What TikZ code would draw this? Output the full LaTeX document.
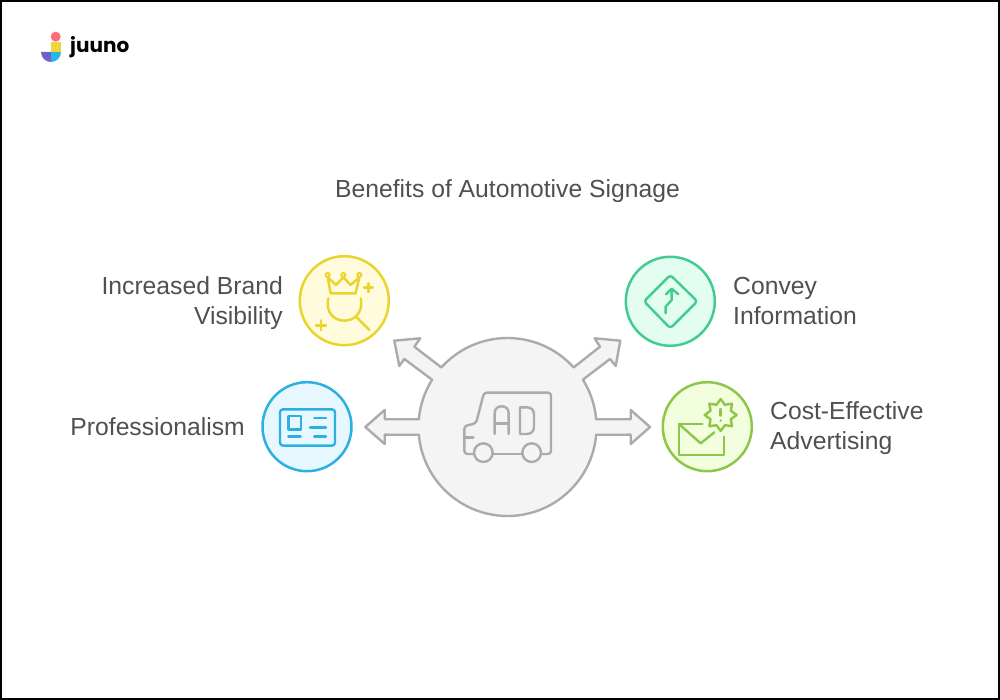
\documentclass[tikz,border=0pt]{standalone}
\usepackage{fontspec}
\setmainfont{Liberation Sans}
\newfontfamily\logofont{Poppins}
\usetikzlibrary{calc}
\definecolor{txt}{HTML}{505050}
\definecolor{hubfill}{HTML}{F4F4F4}
\definecolor{hubline}{HTML}{ABABAB}
\definecolor{yline}{HTML}{E8D42A}
\definecolor{yfill}{HTML}{FFFBDC}
\definecolor{bline}{HTML}{2BB0E0}
\definecolor{bfill}{HTML}{E6F7FF}
\definecolor{gline}{HTML}{42CC8F}
\definecolor{gfill}{HTML}{E4FDF1}
\definecolor{lline}{HTML}{8CC748}
\definecolor{lfill}{HTML}{F3FEDE}
\definecolor{logopurple}{HTML}{6C60C9}
\definecolor{logoblue}{HTML}{29B5E8}
\definecolor{logoyellow}{HTML}{F0D53C}
\definecolor{logored}{HTML}{FF6B7A}
\tikzset{
  zoomed/.style 2 args={shift={(#1pt,#2pt)},x=0.33333pt,y=-0.33333pt},
  disc/.style 2 args={circle,draw=#1,fill=#2,line width=2.5pt,minimum size=89pt,inner sep=0pt},
  ink/.style={line width=2.4pt,line cap=round,line join=round},
  label/.style={text=txt,font=\fontsize{24.7}{30}\selectfont,inner sep=0pt},
}
\begin{document}
\begin{tikzpicture}[x=1pt,y=1pt]
\useasboundingbox (0,0) rectangle (1000,700);
\fill[white] (0,0) rectangle (1000,700);
\draw[black,line width=2pt] (1,1) rectangle (999,699);
% logo
\fill[logopurple] (51,648) -- (41,648) arc[start angle=180,end angle=270,radius=10] -- cycle;
\fill[logoblue] (51,648) -- (61,648) arc[start angle=0,end angle=-90,radius=10] -- cycle;
\fill[logoyellow] (51,648) rectangle (60.7,658);
\fill[logored] (55.7,663.3) circle[radius=5];
\node[anchor=west,inner sep=0pt,font=\logofont\bfseries\fontsize{20}{24}\selectfont] (logo) at (70,652.5) {juuno};
% title
\node[label] (title) at (507.5,508.5) {Benefits of Automotive Signage};
% hub
\node[circle,minimum size=178pt,inner sep=0pt] (c) at (507.5,273) {};
\draw[hubline,fill=hubfill,line width=2.4pt,line join=round]
  ($(c.center)+(32.1:89pt)$) arc[start angle=32.1,end angle=5,radius=89pt]
  -- (630.7,280.7) -- (630.7,290) -- (650,273) -- (630.7,256) -- (630.7,265.3)
  -- ($(c.center)+(-5:89pt)$) arc[start angle=-5,end angle=-175,radius=89pt]
  -- (384.7,265.3) -- (384.7,256) -- (365.3,273) -- (384.7,290) -- (384.7,280.7)
  -- ($(c.center)+(175:89pt)$) arc[start angle=175,end angle=147.9,radius=89pt]
  -- (404.3,341) -- (399.3,334) -- (394.3,359.3) -- (420.3,361.7) -- (414.3,353.3)
  -- ($(c.center)+(138:89pt)$) arc[start angle=138,end angle=42,radius=89pt]
  -- (600,353.3) -- (594.7,361.7) -- (620.3,359.3) -- (615.7,334) -- (610,341) -- cycle;
% truck
\begin{scope}[zoomed={360}{370},ink,hubline]
  \draw[rounded corners=3pt] (342,372) -- (313,372) -- (313,288) -- (348,280) -- (372,188) -- (573,188) -- (573,372) -- (543,372);
  \draw (397,372) -- (488,372);
  \draw (313,322) -- (340,322);
  \draw (370,368) circle[radius=28];
  \draw (515,368) circle[radius=28];
  \draw (404,312) -- (404,250) .. controls (404,236) and (413,229) .. (425,229) .. controls (437,229) and (446,236) .. (446,250) -- (446,312);
  \draw (404,280) -- (446,280);
  \draw (480,232) -- (480,312) -- (500,312) .. controls (514,312) and (522,304) .. (522,290) -- (522,254) .. controls (522,240) and (514,232) .. (500,232) -- cycle;
\end{scope}
% yellow
\node[disc={yline}{yfill}] (yc) at (344.3,399.3) {};
\begin{scope}[zoomed={290}{450},ink,yline]
  \draw (122,130) -- (197,130) -- (208,82) -- (182,105) -- (160,82) -- (138,105) -- (113,82) -- cycle;
  \draw[line width=2pt] (113,75) circle[radius=6];
  \draw[line width=2pt] (160,75) circle[radius=6];
  \draw[line width=2pt] (208,75) circle[radius=6];
  \draw (222,113) -- (248,113) (235,100) -- (235,126);
  \draw (78,226) -- (108,226) (93,211) -- (93,241);
  \draw (115,145) .. controls (105,190) and (135,212) .. (163,212) .. controls (191,212) and (221,190) .. (212,145);
  \draw (198,200) -- (238,240);
\end{scope}
% blue
\node[disc={bline}{bfill}] (bc) at (307,273.3) {};
\begin{scope}[zoomed={255}{325},ink,bline]
  \draw[rounded corners=3pt] (75,103) rectangle (240,212);
  \draw (100,123) rectangle (138,163);
  \draw (178,129) -- (213,129);
  \draw (165,157) -- (213,157);
  \draw (100,185) -- (137,185);
  \draw (178,185) -- (213,185);
\end{scope}
% green
\node[disc={gline}{gfill}] (gc) at (670.3,398.7) {};
\begin{scope}[zoomed={620}{450},ink,gline]
  \draw[rounded corners=3pt] (151,75) -- (232,154) -- (151,235) -- (72,154) -- cycle;
  \draw (137,190) -- (137,170) -- (155,150) -- (155,118);
  \draw (138,133) -- (155,116) -- (175,133);
\end{scope}
% lime
\node[disc={lline}{lfill}] (lc) at (707.3,273.3) {};
\begin{scope}[zoomed={655}{325},ink,lline]
  \draw (142,147) -- (72,147) -- (72,240) -- (207,240) -- (207,185);
  \draw (72,147) -- (137,205) -- (178,172);
  \begin{scope}[shift={(197,120)}]
    \draw (90:48) -- (67.5:33) -- (45:48) -- (22.5:33) -- (0:48) -- (-22.5:33) -- (-45:48) -- (-67.5:33) -- (-90:48) -- (-112.5:33) -- (-135:48) -- (-157.5:33) -- (180:48) -- (157.5:33) -- (135:48) -- (112.5:33) -- cycle;
  \end{scope}
  \draw (197,102) -- (197,122);
  \fill (197,137) circle[radius=4];
\end{scope}
% labels
\node[label,anchor=east,align=right] (t1) at (283,396.5) {Increased Brand\\Visibility};
\node[label,anchor=east] (t2) at (245,273) {Professionalism};
\node[label,anchor=west,align=left] (t3) at (733,399) {Convey\\Information};
\node[label,anchor=west,align=left] (t4) at (770,271.5) {Cost-Effective\\Advertising};
\end{tikzpicture}
\end{document}
